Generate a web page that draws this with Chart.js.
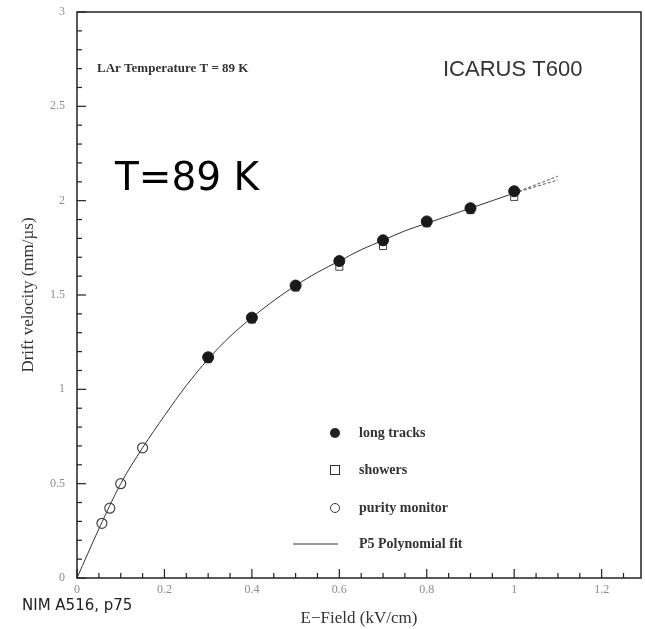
<!DOCTYPE html>
<html>
<head>
<meta charset="utf-8">
<script src="https://cdn.jsdelivr.net/npm/chart.js@4"></script>
<style>
  body { margin: 0; background: #fff; }
  #wrap { width: 645px; height: 629px; }
</style>
</head>
<body>
<div id="wrap"><canvas id="driftChart"></canvas></div>
<script>
// E-field (kV/cm) and drift velocity (mm/us)
const fieldTracks = [0.3, 0.4, 0.5, 0.6, 0.7, 0.8, 0.9, 1.0];
const velTracks = [1.17, 1.38, 1.55, 1.68, 1.79, 1.89, 1.96, 2.05];

const fieldShowers = [0.3, 0.4, 0.5, 0.6, 0.7, 0.8, 0.9, 1.0];
const velShowers = [1.16, 1.37, 1.54, 1.65, 1.76, 1.88, 1.95, 2.02];

const fieldPurity = [0.057, 0.075, 0.1, 0.15];
const velPurity = [0.29, 0.37, 0.5, 0.69];

const fieldFit = [0, 0.05, 0.1, 0.15, 0.2, 0.25, 0.3, 0.35, 0.4, 0.45, 0.5, 0.55, 0.6, 0.65, 0.7, 0.75, 0.8, 0.85, 0.9, 0.95, 1.0];
const velFit = [0, 0.26, 0.5, 0.69, 0.86, 1.02, 1.16, 1.28, 1.38, 1.47, 1.55, 1.62, 1.68, 1.74, 1.79, 1.84, 1.88, 1.92, 1.96, 2.0, 2.04];

// dashed extrapolation of the fit past the last point
const fieldExtra = [1.0, 1.1];
const velExtraHi = [2.04, 2.13];
const velExtraLo = [2.04, 2.11];

const xTicks = [0, 0.2, 0.4, 0.6, 0.8, 1, 1.2];
const yTicks = [0, 0.5, 1, 1.5, 2, 2.5, 3];

const legendItems = ["long tracks", "showers", "purity monitor", "P5 Polynomial fit"];

const pts = (xs, ys) => xs.map((x, i) => ({ x: x, y: ys[i] }));

const serif = '"Liberation Serif", "DejaVu Serif", serif';

const decor = {
  id: "decor",
  afterDraw: (chart) => {
    const ctx = chart.ctx;
    const a = chart.chartArea;
    const xs = chart.scales.x;
    const ys = chart.scales.y;
    ctx.save();

    // frame
    ctx.strokeStyle = "#222";
    ctx.lineWidth = 1.5;
    ctx.strokeRect(a.left, a.top, a.right - a.left, a.bottom - a.top);

    // inward ticks
    ctx.lineWidth = 1.2;
    for (let i = 0; i <= 25; i++) {
      const px = xs.getPixelForValue(i * 0.05);
      const len = i % 4 === 0 ? 9 : 5;
      ctx.beginPath();
      ctx.moveTo(px, a.bottom);
      ctx.lineTo(px, a.bottom - len);
      ctx.stroke();
    }
    for (let i = 0; i <= 30; i++) {
      const py = ys.getPixelForValue(i * 0.1);
      const len = i % 5 === 0 ? 9 : 5;
      ctx.beginPath();
      ctx.moveTo(a.left, py);
      ctx.lineTo(a.left + len, py);
      ctx.stroke();
    }

    // texts
    ctx.fillStyle = "#333";
    ctx.textBaseline = "middle";
    ctx.textAlign = "left";
    ctx.font = "bold 13px " + serif;
    ctx.fillText("LAr Temperature T = 89 K", 97, 69);

    ctx.font = '22px "Liberation Sans", Arial, sans-serif';
    ctx.fillText("ICARUS T600", 443, 70);

    ctx.fillStyle = "#000";
    ctx.font = '39px "DejaVu Sans", sans-serif';
    ctx.fillText("T=89 K", 115, 180);

    ctx.fillStyle = "#222";
    ctx.font = '15px "DejaVu Sans", sans-serif';
    ctx.fillText("NIM A516, p75", 22, 606);

    // legend
    const lx = 335;
    const rows = [433, 470, 508, 544];
    ctx.strokeStyle = "#333";
    ctx.fillStyle = "#222";
    ctx.lineWidth = 1;
    ctx.beginPath();
    ctx.arc(lx, rows[0], 5, 0, Math.PI * 2);
    ctx.fill();
    ctx.strokeRect(lx - 4.5, rows[1] - 4.5, 9, 9);
    ctx.beginPath();
    ctx.arc(lx, rows[2], 4.5, 0, Math.PI * 2);
    ctx.stroke();
    ctx.beginPath();
    ctx.moveTo(293, rows[3]);
    ctx.lineTo(338, rows[3]);
    ctx.stroke();

    ctx.fillStyle = "#333";
    ctx.font = "bold 14px " + serif;
    legendItems.forEach((t, i) => ctx.fillText(t, 359, rows[i]));

    ctx.restore();
  },
};

new Chart(document.getElementById("driftChart"), {
  type: "scatter",
  data: {
    datasets: [
      {
        label: "P5 Polynomial fit",
        data: pts(fieldFit, velFit),
        showLine: true,
        cubicInterpolationMode: "monotone",
        borderColor: "#333",
        borderWidth: 1,
        pointRadius: 0,
        order: 5,
      },
      {
        label: "fit hi",
        data: pts(fieldExtra, velExtraHi),
        showLine: true,
        borderColor: "#555",
        borderWidth: 1,
        borderDash: [3, 2],
        pointRadius: 0,
        order: 5,
      },
      {
        label: "fit lo",
        data: pts(fieldExtra, velExtraLo),
        showLine: true,
        borderColor: "#555",
        borderWidth: 1,
        borderDash: [3, 2],
        pointRadius: 0,
        order: 5,
      },
      {
        label: "showers",
        data: pts(fieldShowers, velShowers),
        pointStyle: "rect",
        pointRadius: 5,
        backgroundColor: "rgba(0,0,0,0)",
        borderColor: "#444",
        borderWidth: 1,
        order: 3,
      },
      {
        label: "purity monitor",
        data: pts(fieldPurity, velPurity),
        pointStyle: "circle",
        pointRadius: 5,
        backgroundColor: "rgba(0,0,0,0)",
        borderColor: "#444",
        borderWidth: 1.2,
        order: 2,
      },
      {
        label: "long tracks",
        data: pts(fieldTracks, velTracks),
        pointStyle: "circle",
        pointRadius: 5.5,
        backgroundColor: "#1a1a1a",
        borderColor: "#1a1a1a",
        order: 1,
      },
    ],
  },
  options: {
    responsive: true,
    maintainAspectRatio: false,
    animation: false,
    layout: { autoPadding: false, padding: { top: 12, right: 4, left: 0, bottom: 0 } },
    plugins: {
      legend: { display: false },
      tooltip: { enabled: false },
    },
    scales: {
      x: {
        type: "linear",
        min: 0,
        max: 1.29,
        afterBuildTicks: (axis) => {
          axis.ticks = xTicks.map((v) => ({ value: v }));
        },
        afterFit: (axis) => {
          axis.height = 51;
        },
        grid: { display: false, drawTicks: false },
        border: { display: false },
        ticks: {
          padding: 5,
          color: "#8c8c8c",
          font: { family: serif, size: 12 },
          maxRotation: 0,
          callback: (v) => String(v),
        },
        title: {
          display: true,
          text: "E\u2212Field (kV/cm)",
          color: "#333",
          font: { family: serif, size: 17 },
          padding: { top: 6, bottom: 0 },
        },
      },
      y: {
        type: "linear",
        min: 0,
        max: 3,
        afterBuildTicks: (axis) => {
          axis.ticks = yTicks.map((v) => ({ value: v }));
        },
        afterFit: (axis) => {
          axis.width = 77;
          axis.paddingTop = 0;
          axis.paddingBottom = 0;
        },
        grid: { display: false, drawTicks: false },
        border: { display: false },
        ticks: {
          padding: 12,
          color: "#8c8c8c",
          font: { family: serif, size: 12 },
          callback: (v) => String(v),
        },
        title: {
          display: true,
          text: "Drift velocity (mm/\u00b5s)",
          color: "#333",
          font: { family: serif, size: 17 },
          padding: { top: 18, bottom: 0 },
        },
      },
    },
  },
  plugins: [decor],
});
</script>
</body>
</html>
